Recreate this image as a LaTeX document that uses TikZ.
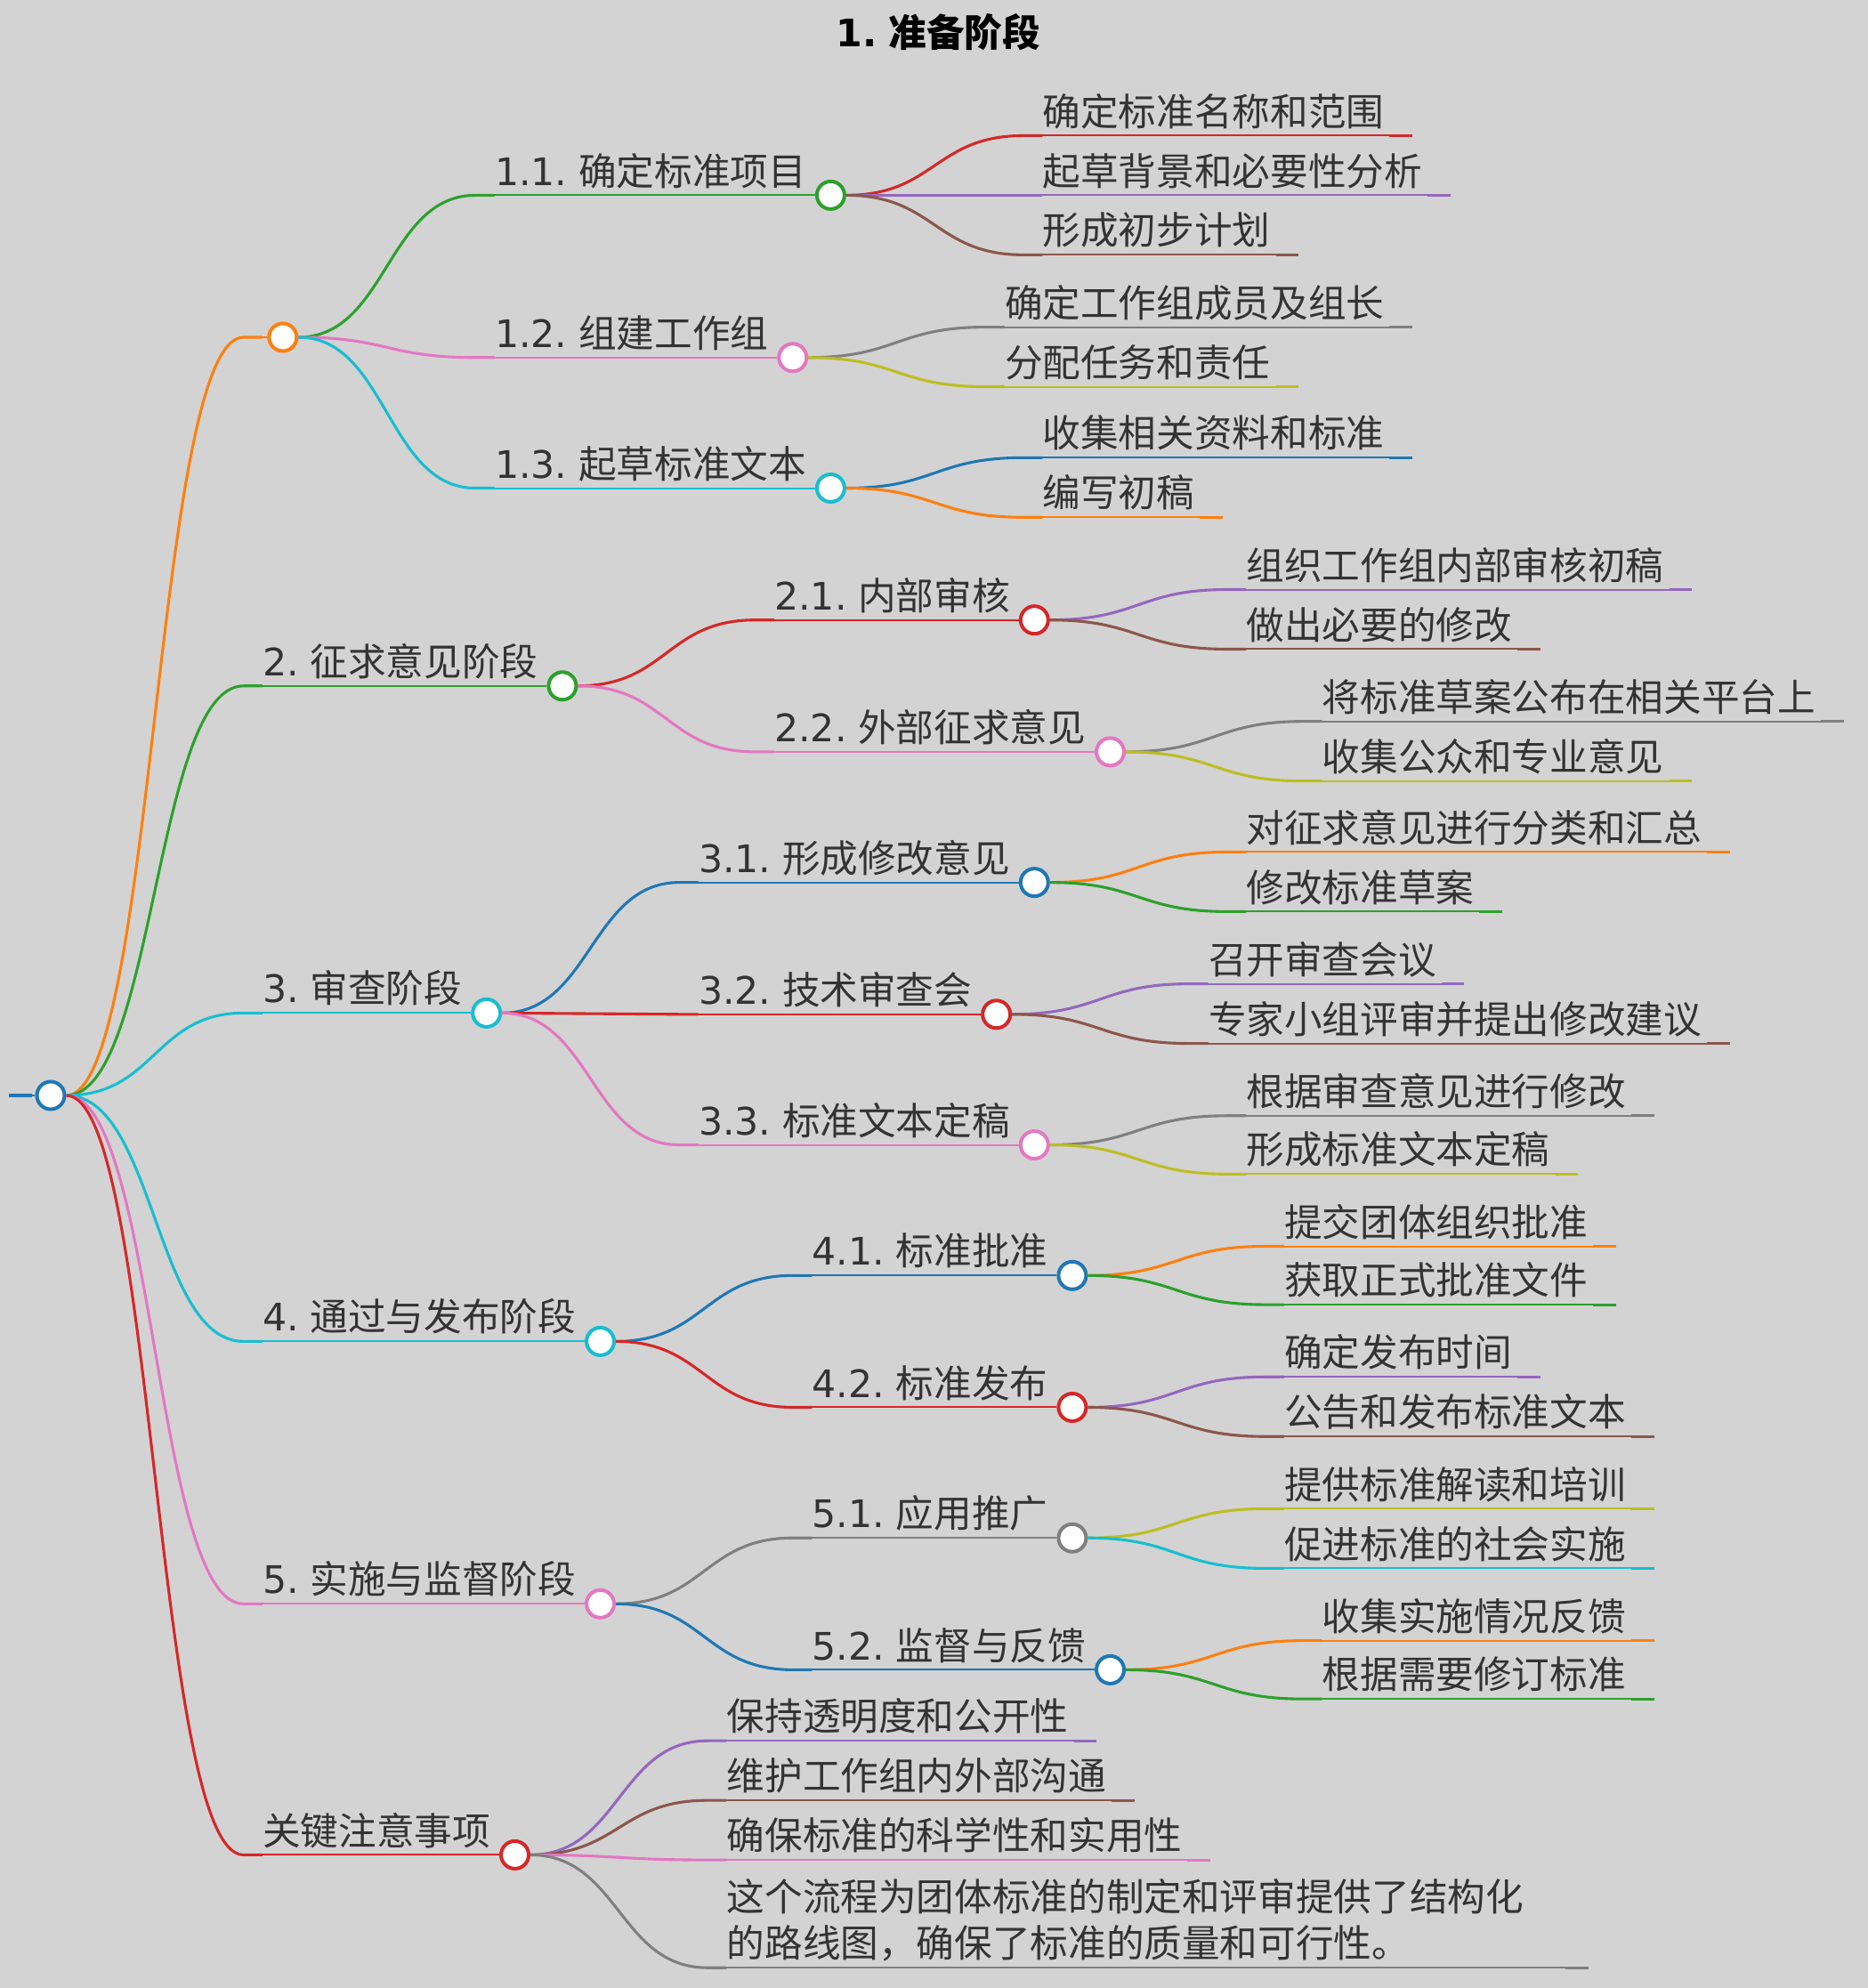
\documentclass[tikz,border=0pt]{standalone}
\usepackage{fontspec}
\usetikzlibrary{calc}
\newfontfamily\cjk{Noto Sans CJK SC}
\newfontfamily\dejavu{DejaVu Sans}
\definecolor{bg}{HTML}{D3D3D3}
\definecolor{txt}{HTML}{333333}
\definecolor{cBlue}{HTML}{1F77B4}
\definecolor{cOrange}{HTML}{FF7F0E}
\definecolor{cGreen}{HTML}{2CA02C}
\definecolor{cRed}{HTML}{D62728}
\definecolor{cPurple}{HTML}{9467BD}
\definecolor{cBrown}{HTML}{8C564B}
\definecolor{cPink}{HTML}{E377C2}
\definecolor{cGrey}{HTML}{7F7F7F}
\definecolor{cOlive}{HTML}{BCBD22}
\definecolor{cCyan}{HTML}{17BECF}
\newcommand*{\idx}[1]{{\dejavu #1}\space}
\newcommand*{\branchArg}[6][]{% node options, name, parent, y of underline, colour, text
    \path (#3.center) ++(152,0) coordinate (#2-x);
    \coordinate (#2-y) at (0,#4);
    \coordinate (#2-s) at (#2-x |- #2-y);
    \coordinate (#2-m) at ($(#3.east)!0.5!(#2-s)$); % control points half way, as in a horizontal link
    \draw [link, #5] (#3.east) .. controls (#2-m |- #3.east) and (#2-m |- #2-s) .. (#2-s) -- ++(15,0);
    \node [lbl, #1] (#2-l) at ($(#2-s)+(15,-8)$) {#6};
}
\newcommand*{\branch}[6][]{\branchArg[#1]{#2}{#3}{#4}{#5}{#6}% name, parent, y, colour, text -> ends in a circle
    \path (#2-s -| #2-l.base east) ++(19,0) node [dot=#5] (#2) {};
    \draw [uline, #5] (#2-s) -- (#2.west);
}
\newcommand*{\twig}[6][]{\branchArg[#1]{#2}{#3}{#4}{#5}{#6}% leaf: underline only
    \path (#2-s -| #2-l.base east) ++(22,0) coordinate (#2-e);
    \draw [uline, #5] (#2-s) -- (#2-e);
    \draw [link, #5] (#2-e) -- ++(-18,0);
}

\begin{document}
\begin{tikzpicture}[x=0.712pt, y=-0.712pt,
    link/.style={line width=1.55pt},
    uline/.style={line width=1pt},
    dot/.style={circle, draw=#1, fill=white, line width=2pt, minimum size=15.5pt, inner sep=0pt},
    lbl/.style={inner sep=0pt, anchor=base west, text=txt, align=left, font=\cjk\fontsize{21.3pt}{26.3pt}\selectfont}] {
\fill [bg] (0,0) rectangle (1473,1568);
\node [anchor=base, font=\cjk\bfseries\fontsize{21.3pt}{26pt}\selectfont] (title) at (740,37) {\idx{1.}准备阶段};
\node [dot=cBlue] (root) at (40,864) {};
\coordinate (stub) at (7,864);
\draw [link, cBlue] (stub) -- ++(18,0);
\draw [uline, cBlue] (stub) -- (root.west);
% 1
\branch[xshift=-3.5pt]{a}{root}{266}{cOrange}{}
\branch{a1}{a}{154}{cGreen}{\idx{1.1.}确定标准项目}
\twig{a11}{a1}{107}{cRed}{确定标准名称和范围}
\twig{a12}{a1}{154}{cPurple}{起草背景和必要性分析}
\twig{a13}{a1}{201}{cBrown}{形成初步计划}
\branch{a2}{a}{282}{cPink}{\idx{1.2.}组建工作组}
\twig{a21}{a2}{258}{cGrey}{确定工作组成员及组长}
\twig{a22}{a2}{305}{cOlive}{分配任务和责任}
\branch{a3}{a}{385}{cCyan}{\idx{1.3.}起草标准文本}
\twig{a31}{a3}{361}{cBlue}{收集相关资料和标准}
\twig{a32}{a3}{408}{cOrange}{编写初稿}
% 2
\branch{b}{root}{541}{cGreen}{\idx{2.}征求意见阶段}
\branch{b1}{b}{489}{cRed}{\idx{2.1.}内部审核}
\twig{b11}{b1}{465}{cPurple}{组织工作组内部审核初稿}
\twig{b12}{b1}{512}{cBrown}{做出必要的修改}
\branch{b2}{b}{593}{cPink}{\idx{2.2.}外部征求意见}
\twig{b21}{b2}{569}{cGrey}{将标准草案公布在相关平台上}
\twig{b22}{b2}{616}{cOlive}{收集公众和专业意见}
% 3
\branch{c}{root}{799}{cCyan}{\idx{3.}审查阶段}
\branch{c1}{c}{696}{cBlue}{\idx{3.1.}形成修改意见}
\twig{c11}{c1}{672}{cOrange}{对征求意见进行分类和汇总}
\twig{c12}{c1}{719}{cGreen}{修改标准草案}
\branch{c2}{c}{800}{cRed}{\idx{3.2.}技术审查会}
\twig{c21}{c2}{776}{cPurple}{召开审查会议}
\twig{c22}{c2}{823}{cBrown}{专家小组评审并提出修改建议}
\branch{c3}{c}{903}{cPink}{\idx{3.3.}标准文本定稿}
\twig{c31}{c3}{880}{cGrey}{根据审查意见进行修改}
\twig{c32}{c3}{926}{cOlive}{形成标准文本定稿}
% 4
\branch{d}{root}{1058}{cCyan}{\idx{4.}通过与发布阶段}
\branch{d1}{d}{1006}{cBlue}{\idx{4.1.}标准批准}
\twig{d11}{d1}{983}{cOrange}{提交团体组织批准}
\twig{d12}{d1}{1029}{cGreen}{获取正式批准文件}
\branch{d2}{d}{1110}{cRed}{\idx{4.2.}标准发布}
\twig{d21}{d2}{1086}{cPurple}{确定发布时间}
\twig{d22}{d2}{1133}{cBrown}{公告和发布标准文本}
% 5
\branch{e}{root}{1265}{cPink}{\idx{5.}实施与监督阶段}
\branch{e1}{e}{1213}{cGrey}{\idx{5.1.}应用推广}
\twig{e11}{e1}{1190}{cOlive}{提供标准解读和培训}
\twig{e12}{e1}{1237}{cCyan}{促进标准的社会实施}
\branch{e2}{e}{1317}{cBlue}{\idx{5.2.}监督与反馈}
\twig{e21}{e2}{1294}{cOrange}{收集实施情况反馈}
\twig{e22}{e2}{1340}{cGreen}{根据需要修订标准}
% key points
\branch{f}{root}{1463}{cRed}{关键注意事项}
\twig{f1}{f}{1373}{cPurple}{保持透明度和公开性}
\twig{f2}{f}{1420}{cBrown}{维护工作组内外部沟通}
\twig{f3}{f}{1467}{cPink}{确保标准的科学性和实用性}
\twig[text width=467.8pt, yshift=26.3pt]{f4}{f}{1552}{cGrey}{这个流程为团体标准的制定和评审提供了结构化\\的路线图，确保了标准的质量和可行性。}
}\end{tikzpicture}
\end{document}
